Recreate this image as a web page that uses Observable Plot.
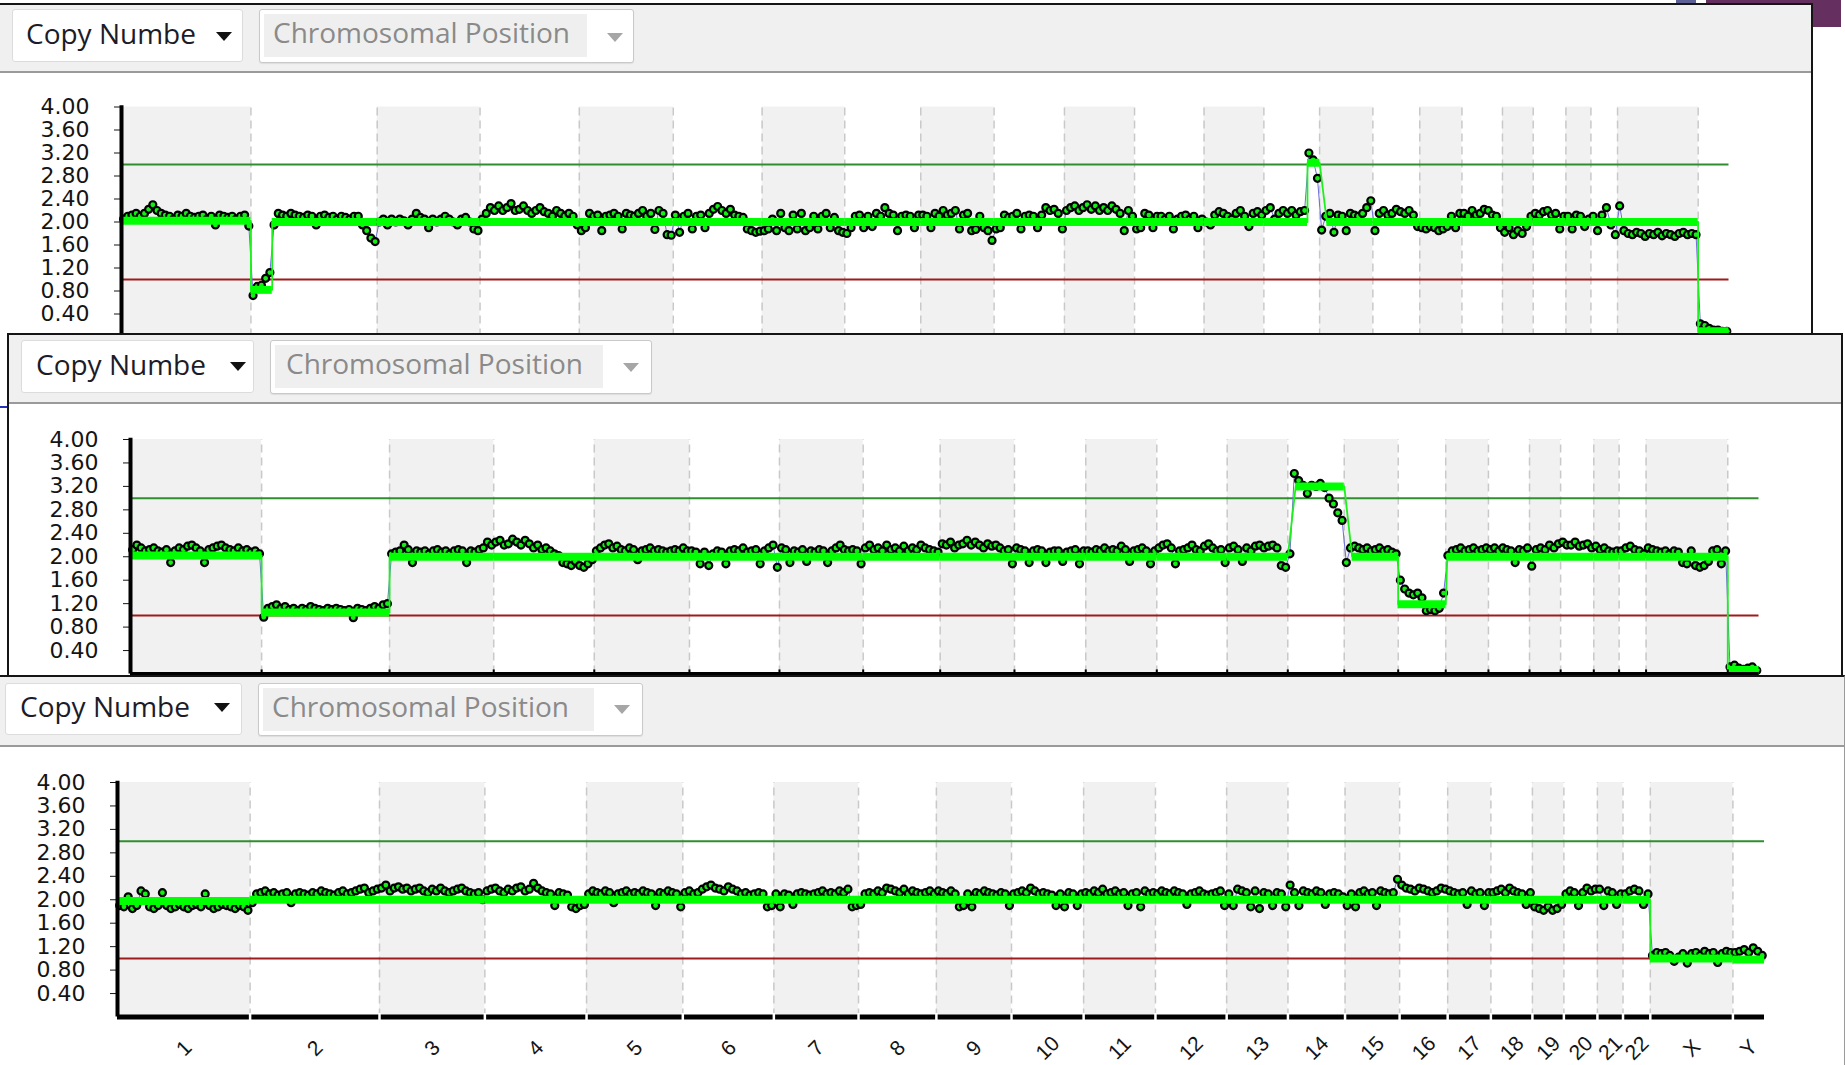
<!DOCTYPE html>
<html>
<head>
<meta charset="utf-8">
<script src="https://cdn.jsdelivr.net/npm/d3@7"></script>
<script src="https://cdn.jsdelivr.net/npm/@observablehq/plot@0.6"></script>
<style>
  html, body { margin: 0; padding: 0; background: #fff; }
  body { position: relative; width: 1845px; height: 1065px; overflow: hidden; font-family: "Open Sans", "Noto Sans", sans-serif; }
  .panel { position: absolute; box-sizing: border-box; background: #fff; overflow: hidden; }
  .toolbar { position: absolute; left: 0; right: 0; top: 0; background: #f0f0f0; border-bottom: 2px solid #9a9a9a; }
  .dd { position: absolute; box-sizing: border-box; background: #fff; border: 1px solid #dcdcdc; border-radius: 3px; }
  .dd2 { position: absolute; box-sizing: border-box; background: #fff; border: 1px solid #c9c9c9; border-radius: 3px; box-shadow: 0 1px 1px rgba(0,0,0,0.08); }
  .lbl { position: absolute; font-size: 28px; line-height: 28px; white-space: nowrap; color: #1c1c28; }
  .field { position: absolute; left: 4px; top: 4px; height: 43px; background: #efefef; }
  .field span { position: absolute; top: 4px; font-size: 28px; line-height: 28px; white-space: nowrap; color: #8a8a8a; }
  .caret { position: absolute; width: 0; height: 0; border-left: 8px solid transparent; border-right: 8px solid transparent; }
  .caret.dark { border-top: 9px solid #111; }
  .caret.light { border-top: 9px solid #a6a6a6; }
  .chart { position: absolute; left: 0; }
  .chart svg { display: block; }
</style>
</head>
<body>

<div style="position:absolute;left:1706px;top:0;width:135px;height:27px;background:#65305f;"></div>
<div style="position:absolute;left:1676px;top:0;width:20px;height:3px;background:#5c6096;"></div>

<!-- sample 1 window -->
<div class="panel" style="left:0;top:3px;width:1813px;height:340px;border-top:2px solid #151515;border-right:2px solid #151515;z-index:1;">
  <div class="toolbar" style="height:66px;"></div>
  <div class="dd" style="left:12px;top:4px;width:231px;height:53px;">
    <span class="lbl" style="left:13px;top:9px;">Copy Numbe</span>
    <span class="caret dark" style="left:203px;top:22px;"></span>
  </div>
  <div class="dd2" style="left:259px;top:4px;width:375px;height:54px;">
    <div class="field" style="width:323px;"><span style="left:9px;">Chromosomal Position</span></div>
    <span class="caret light" style="left:347px;top:23px;"></span>
  </div>
  <div class="chart" id="chart1" style="top:69px;"></div>
</div>
<div style="position:absolute;left:0;top:406px;width:8px;height:2px;background:#2431b8;z-index:1;"></div>

<!-- sample 2 window -->
<div class="panel" style="left:7px;top:333px;width:1836px;height:342px;border-top:2px solid #151515;border-left:2px solid #151515;border-right:2px solid #151515;z-index:2;">
  <div class="toolbar" style="height:67px;"></div>
  <div class="dd" style="left:12px;top:5px;width:233px;height:53px;">
    <span class="lbl" style="left:14px;top:9px;">Copy Numbe</span>
    <span class="caret dark" style="left:208px;top:21px;"></span>
  </div>
  <div class="dd2" style="left:261px;top:5px;width:382px;height:54px;">
    <div class="field" style="width:328px;"><span style="left:11px;">Chromosomal Position</span></div>
    <span class="caret light" style="left:352px;top:22px;"></span>
  </div>
  <div class="chart" id="chart2" style="top:69px;"></div>
</div>

<!-- sample 3 window -->
<div class="panel" style="left:0;top:675px;width:1845px;height:390px;border-top:2px solid #151515;border-right:1px solid #9a9a9a;z-index:3;">
  <div class="toolbar" style="height:68px;"></div>
  <div class="dd" style="left:5px;top:6px;width:237px;height:52px;">
    <span class="lbl" style="left:14px;top:8px;">Copy Numbe</span>
    <span class="caret dark" style="left:208px;top:19px;"></span>
  </div>
  <div class="dd2" style="left:258px;top:6px;width:385px;height:53px;">
    <div class="field" style="width:331px;"><span style="left:9px;">Chromosomal Position</span></div>
    <span class="caret light" style="left:355px;top:21px;"></span>
  </div>
  <div class="chart" id="chart3" style="top:70px;"></div>
</div>

<script>
// Chromosomes and their lengths (Mb); the x axis is the concatenated genome.
const chromosomes = ["1","2","3","4","5","6","7","8","9","10","11","12","13","14","15","16","17","18","19","20","21","22","X","Y"];
const chromLengthMb = [249.25,243.2,198.02,191.15,180.92,171.12,159.14,146.36,141.21,135.53,135.01,133.85,115.17,107.35,102.53,90.35,81.2,78.08,59.13,63.03,48.13,51.3,155.27,59.37];

// Copy-number ticks and the gain / loss reference levels.
const yTicks = [0.4, 0.8, 1.2, 1.6, 2.0, 2.4, 2.8, 3.2, 3.6, 4.0];
const gainLevel = 3;
const lossLevel = 1;

// Probe copy-number values per chromosome (listed in chromosome order).
const probesA = [
  [2.05,2.1,2.12,2.15,2.1,2.15,2.22,2.3,2.2,2.15,2.12,2.1,2.05,2.12,2.1,2.15,2.1,2.08,2.1,2.12,2.05,2.1,1.95,2.12,2.1,2.08,2.1,2.05,2.1,2.12,1.93],
  [0.72,0.88,0.9,1.02,1.12,1.95,2.15,2.12,2.1,2.15,2.12,2.1,2.08,2.12,2.1,1.95,2.1,2.12,2.08,2.1,2.05,2.1,2.08,2.05,2.1,2.1,1.95,1.85,1.72,1.66],
  [2.0,2.05,1.95,2.05,2.0,2.05,2.02,1.95,2.05,2.15,2.08,2.05,1.9,2.05,2.0,2.05,2.1,2.05,2.0,1.95,2.05,2.08,2.0,1.88,1.85],
  [2.05,2.15,2.25,2.2,2.28,2.2,2.25,2.32,2.2,2.22,2.28,2.2,2.15,2.2,2.25,2.18,2.15,2.1,2.2,2.15,2.1,2.15,2.1,1.95],
  [1.85,1.9,2.15,2.1,2.12,1.85,2.1,2.12,2.15,2.1,1.88,2.15,2.12,2.1,2.15,2.2,2.1,2.15,1.87,2.2,2.15,1.78,1.77],
  [2.12,1.82,2.1,2.15,1.88,2.1,2.12,1.9,2.15,2.22,2.27,2.2,2.15,2.22,2.12,2.1,2.08,1.88,1.85,1.82,1.84],
  [1.85,1.88,2.05,1.85,2.15,1.9,1.85,2.12,1.88,2.15,1.85,1.9,2.1,1.88,2.1,2.15,1.9,2.08,1.85,1.82],
  [1.8,1.9,2.1,2.12,1.9,2.1,1.92,2.15,2.1,2.25,2.15,2.12,1.85,2.1,2.12,2.1,1.9,2.12],
  [2.12,2.1,1.9,2.15,2.1,2.2,2.12,2.15,2.2,1.88,2.12,2.15,1.85,1.87,2.1,1.9,1.85,1.68],
  [1.88,1.9,2.12,2.08,2.1,2.15,1.88,2.1,2.12,2.1,1.9,2.12,2.25,2.2,2.22,2.15,1.88],
  [2.2,2.25,2.28,2.2,2.25,2.3,2.22,2.28,2.2,2.25,2.2,2.28,2.22,2.15,1.85,2.2,2.1],
  [1.88,1.9,2.15,2.12,1.9,2.1,2.1,2.05,2.1,1.88,2.05,2.1,2.12,2.05,2.1,1.9,2.05],
  [2.0,1.95,2.12,2.18,2.15,2.1,2.05,2.15,2.2,2.1,1.92,2.15,2.18,2.12],
  [2.2,2.25,2.05,2.15,2.2,2.15,2.2,2.12,2.18,2.2,3.2,3.08,2.76],
  [1.86,2.1,2.15,1.82,2.12,2.1,1.85,2.15,2.12,2.1,2.15,2.25,2.37],
  [1.85,2.15,2.2,2.12,2.15,2.22,2.18,2.15,2.2,2.12,1.92],
  [1.9,1.88,1.92,1.9,1.85,1.88,1.92,2.1,1.9,2.15],
  [2.15,2.1,2.2,2.12,2.15,2.22,2.2,2.12,2.1,1.9],
  [1.82,1.9,1.78,1.85,1.8,1.92,2.1],
  [2.15,2.12,2.18,2.2,2.12,2.15,1.88,2.1],
  [2.1,1.88,2.12,2.1,1.92,2.05],
  [2.1,1.85,2.12,2.25,1.95,1.78],
  [2.28,1.85,1.8,1.78,1.82,1.8,1.75,1.8,1.78,1.82,1.76,1.8,1.78,1.75,1.8,1.82,1.78,1.8,1.78],
  [0.23,0.2,0.15,0.12,0.12,0.1,0.1]
];

const probesB = [
  [2.12,2.2,2.15,2.1,2.12,2.15,2.1,2.08,2.12,1.9,2.1,2.15,2.12,2.18,2.2,2.15,2.1,1.9,2.12,2.15,2.18,2.2,2.15,2.12,2.1,2.15,2.1,2.12,2.08,2.1,2.05],
  [0.97,1.12,1.15,1.18,1.12,1.15,1.1,1.12,1.08,1.12,1.1,1.15,1.12,1.1,1.08,1.12,1.1,1.12,1.1,1.08,1.1,0.96,1.12,1.1,1.08,1.12,1.15,1.12,1.18,1.2],
  [2.05,2.08,2.1,2.2,2.12,1.9,2.1,2.08,2.1,2.05,2.1,2.12,2.08,2.1,2.05,2.1,2.12,2.1,1.9,2.1,2.08,2.12,2.15,2.25,2.2],
  [2.25,2.28,2.2,2.22,2.3,2.25,2.2,2.28,2.22,2.15,2.2,2.12,2.15,2.1,2.05,2.02,1.9,1.88,1.85,1.92,1.85,1.82,1.88,1.95],
  [2.1,2.15,2.2,2.22,2.15,2.18,2.12,2.1,2.15,2.12,1.95,2.1,2.12,2.15,2.1,2.12,2.1,2.08,2.1,2.12,2.1,2.15,2.1],
  [2.1,2.08,1.88,2.08,1.85,2.05,2.1,2.08,1.88,2.1,2.12,2.1,2.15,2.08,2.1,2.12,1.88,2.1,2.15,2.2,1.82],
  [2.15,2.12,1.9,2.1,2.08,2.12,1.92,2.1,2.08,2.12,2.1,1.9,2.1,2.15,2.2,2.12,2.1,2.12,2.1,1.88],
  [2.15,2.2,2.12,2.15,2.1,2.2,2.12,2.15,2.1,2.18,2.1,2.15,2.12,2.2,2.15,2.12,2.1,2.08],
  [2.22,2.2,2.25,2.15,2.2,2.22,2.28,2.2,2.25,2.2,2.15,2.22,2.18,2.2,2.15,2.1,2.12,1.88],
  [2.15,2.12,2.1,1.9,2.1,2.12,2.1,1.9,2.08,2.1,2.1,1.92,2.08,2.1,2.12,1.88,2.1],
  [2.1,2.08,2.12,2.1,2.15,2.1,2.12,2.1,2.18,2.12,1.92,2.1,2.12,2.15,2.1,1.88,2.1],
  [2.15,2.2,2.22,2.15,1.88,2.1,2.12,2.15,2.2,2.12,2.1,2.18,2.22,2.15,2.1,2.12,1.9],
  [2.15,2.18,2.12,1.92,2.15,2.1,2.18,2.2,2.15,2.18,2.2,2.15,1.85,1.82],
  [2.05,3.42,3.3,3.22,3.08,3.22,3.2,3.25,3.18,3.0,2.9,2.75,2.62],
  [1.9,2.15,2.18,2.15,2.12,2.15,2.1,2.12,2.15,2.1,2.12,2.08,2.05],
  [1.6,1.45,1.38,1.35,1.38,1.3,1.08,1.1,1.08,1.12,1.38],
  [2.02,2.1,2.12,2.15,2.1,2.12,2.15,2.1,2.12,2.15],
  [2.12,2.15,2.1,2.15,2.12,2.1,1.9,2.12,2.1,2.15],
  [1.84,2.12,2.15,2.12,2.2,2.15,2.22],
  [2.25,2.2,2.2,2.25,2.18,2.2,2.22,2.15],
  [2.18,2.12,2.15,2.1,2.08,2.1],
  [2.1,2.15,2.18,2.12,2.1,2.05],
  [2.15,2.12,2.1,2.08,2.1,2.05,2.1,2.08,1.9,1.88,2.1,1.85,1.82,1.85,1.92,2.1,2.12,1.88,2.1],
  [0.12,0.15,0.1,0.08,0.1,0.12,0.06]
];

const probesC = [
  [1.9,1.88,2.05,1.85,1.9,2.15,2.1,1.88,1.85,1.9,2.12,1.9,1.85,1.88,1.92,1.88,1.85,1.9,1.92,1.88,2.1,1.9,1.85,1.88,1.92,1.9,1.88,1.85,1.9,1.88,1.82],
  [1.95,2.1,2.12,2.15,2.1,2.12,2.08,2.1,2.12,1.95,2.1,2.12,2.1,2.08,2.12,2.1,2.15,2.12,2.1,2.08,2.12,2.15,2.1,2.12,2.15,2.18,2.2,2.12,2.15,2.18],
  [2.2,2.25,2.15,2.2,2.22,2.18,2.2,2.15,2.18,2.2,2.15,2.12,2.18,2.15,2.2,2.15,2.12,2.15,2.18,2.2,2.15,2.12,2.1,2.12,2.0],
  [2.15,2.18,2.2,2.15,2.12,2.18,2.15,2.2,2.22,2.15,2.18,2.28,2.2,2.15,2.12,2.1,1.9,2.12,2.1,2.08,1.88,1.85,1.9,1.92],
  [2.1,2.15,2.12,2.1,2.15,2.12,1.95,2.1,2.12,2.15,2.1,2.12,2.1,2.15,2.12,2.1,1.9,2.12,2.1,2.15,2.12,2.1,1.88],
  [2.12,2.15,2.1,2.12,2.18,2.22,2.25,2.2,2.18,2.15,2.22,2.18,2.15,2.1,2.12,2.08,2.1,2.12,2.1,1.88,1.9],
  [2.1,1.88,2.1,2.08,1.92,2.1,2.12,2.1,2.08,2.1,2.12,2.15,2.1,2.12,2.1,2.15,2.12,2.18,1.88,1.9],
  [1.92,2.1,2.12,2.1,2.15,2.12,2.2,2.18,2.15,2.12,2.18,2.1,2.15,2.12,2.1,2.12,2.15,2.1],
  [2.15,2.12,2.1,2.15,2.1,1.88,1.9,2.1,1.88,2.12,2.1,2.15,2.12,2.1,2.08,2.12,2.1,1.9],
  [2.1,2.12,2.15,2.12,2.2,2.15,2.1,2.12,2.1,2.08,1.9,2.1,1.88,2.12,2.1,1.9,2.1],
  [2.12,2.1,2.15,2.12,2.18,2.1,2.12,2.15,2.1,2.12,1.9,2.1,2.12,1.88,2.15,2.1,2.12],
  [2.1,2.15,2.12,2.1,2.15,2.12,2.1,1.92,2.1,2.12,2.15,2.1,2.08,2.1,2.12,2.15,1.9],
  [2.1,1.9,2.18,2.15,2.12,1.88,2.15,1.85,2.12,2.1,1.9,2.12,2.1,1.88],
  [2.25,2.12,1.9,2.15,2.12,2.1,2.15,2.12,1.92,2.1,2.12,2.1,2.05],
  [1.9,2.1,1.88,2.12,2.15,2.1,2.12,1.9,2.15,2.12,2.1,2.12,2.35],
  [2.25,2.2,2.18,2.15,2.2,2.18,2.15,2.12,2.15,2.2,2.18],
  [2.15,2.12,2.1,2.12,1.92,2.15,2.1,2.12,1.9,2.12],
  [2.12,2.15,2.18,2.12,2.2,2.15,2.12,2.1,1.92,2.12],
  [1.88,1.85,1.82,1.88,1.82,1.85,1.92],
  [2.1,2.15,2.12,1.9,2.12,2.2,2.15,2.18],
  [2.18,1.9,2.15,2.12,1.92,2.1],
  [2.1,2.15,2.18,2.15,1.92,2.1],
  [1.05,1.1,1.08,1.1,1.05,0.95,1.02,1.08,0.92,1.08,1.1,1.05,1.12,1.08,1.1,0.93,1.08,1.12,1.1],
  [1.1,1.12,1.15,1.1,1.18,1.12,1.05]
];

// Segmented copy-number calls: [chromosome, start Mb, end Mb, level].
const segmentsA = [
  ["1",0,249.25,2.02],["2",0,41,0.82],["2",41,243.2,2.0],["3",0,198.02,2.0],["4",0,191.15,2.0],
  ["5",0,180.92,2.0],["6",0,171.12,2.0],["7",0,159.14,2.0],["8",0,146.36,2.0],["9",0,141.21,2.0],
  ["10",0,135.53,2.0],["11",0,135.01,2.0],["12",0,133.85,2.0],["13",0,115.17,2.0],
  ["14",0,84,2.0],["14",84,107.35,3.03],["15",14,102.53,2.0],["16",0,90.35,2.0],["17",0,81.2,2.0],
  ["18",0,78.08,2.0],["19",0,59.13,2.0],["20",0,63.03,2.0],["21",0,48.13,2.0],["22",0,51.3,2.0],
  ["X",0,155.27,2.0],["Y",0,59.37,0.1]
];
const segmentsB = [
  ["1",0,249.25,2.02],["2",0,243.2,1.05],["3",0,198.02,2.0],["4",0,191.15,2.0],
  ["5",0,180.92,2.0],["6",0,171.12,2.0],["7",0,159.14,2.0],["8",0,146.36,2.0],["9",0,141.21,2.0],
  ["10",0,135.53,2.0],["11",0,135.01,2.0],["12",0,133.85,2.0],["13",0,115.17,2.0],
  ["14",15,107.35,3.2],["15",15,102.53,2.0],["16",0,90.35,1.19],["17",3,81.2,2.0],
  ["18",0,78.08,2.0],["19",0,59.13,2.0],["20",0,63.03,2.0],["21",0,48.13,2.0],["22",0,51.3,2.0],
  ["X",0,155.27,2.0],["Y",0,59.37,0.07]
];
const segmentsC = [
  ["1",0,249.25,1.98],["2",0,243.2,2.0],["3",0,198.02,2.0],["4",0,191.15,2.0],
  ["5",0,180.92,2.0],["6",0,171.12,2.0],["7",0,159.14,2.0],["8",0,146.36,2.0],["9",0,141.21,2.0],
  ["10",0,135.53,2.0],["11",0,135.01,2.0],["12",0,133.85,2.0],["13",0,115.17,2.0],
  ["14",0,107.35,2.0],["15",0,102.53,2.0],["16",0,90.35,2.0],["17",0,81.2,2.0],
  ["18",0,78.08,2.0],["19",0,59.13,2.0],["20",0,63.03,2.0],["21",0,48.13,2.0],["22",0,51.3,2.0],
  ["X",0,155.27,1.0],["Y",0,59.37,0.98]
];

// Genome layout: chromosome offsets along the concatenated axis.
const offsets = Array.from(d3.cumsum([0, ...chromLengthMb]));
const GENOME = offsets[offsets.length - 1];
const chromTable = chromosomes.map((name, i) => ({
  name, start: offsets[i], end: offsets[i + 1], mid: (offsets[i] + offsets[i + 1]) / 2, shaded: i % 2 === 0
}));
const boundaries = chromTable.slice(0, -1);

// Probes spread across each chromosome in listing order.
function probeRows(values) {
  return values.flatMap((vals, c) =>
    vals.map((cn, i) => ({pos: offsets[c] + (i + 0.5) / vals.length * chromLengthMb[c], cn})));
}
function segmentRows(segs) {
  return segs.map(([chr, a, b, level]) => {
    const c = chromosomes.indexOf(chr);
    return {g1: offsets[c] + a, g2: offsets[c] + b, level};
  });
}
function segmentPath(rows) {
  return rows.flatMap(s => [{g: s.g1, cn: s.level}, {g: s.g2, cn: s.level}]);
}

function copyNumberPlot({width, height, marginLeft, marginRight, marginTop, marginBottom, probes, segments, extra}) {
  const probeData = probeRows(probes);
  const segData = segmentRows(segments);
  return Plot.plot({
    width, height, marginLeft, marginRight, marginTop, marginBottom,
    style: {fontFamily: '"DejaVu Sans", Verdana, sans-serif', fontSize: "22px", color: "#141414", background: "transparent", overflow: "visible"},
    x: {domain: [0, GENOME], axis: null},
    y: {domain: [0, 4], ticks: yTicks, tickFormat: d3.format(".2f"), tickSize: 7, tickPadding: 25, label: null},
    marks: [
      Plot.rect(chromTable.filter(d => d.shaded), {x1: "start", x2: "end", y1: 0, y2: 4, fill: "#f1f1f1"}),
      Plot.ruleX(boundaries, {x: "end", y1: 0, y2: 4, stroke: "#c9c9c9", strokeWidth: 1.5, strokeDasharray: "8,5"}),
      Plot.ruleY([gainLevel], {x1: 0, x2: GENOME, stroke: "#2f8f2f", strokeWidth: 2}),
      Plot.ruleY([lossLevel], {x1: 0, x2: GENOME, stroke: "#9e1b1b", strokeWidth: 2}),
      Plot.line(probeData, {x: "pos", y: "cn", stroke: "#6d6fd8", strokeWidth: 1}),
      Plot.dot(probeData, {x: "pos", y: "cn", r: 3.5, fill: "#14ee14", stroke: "#000", strokeWidth: 2.2}),
      Plot.line(segmentPath(segData), {x: "g", y: "cn", stroke: "#1ef01e", strokeWidth: 1.8}),
      Plot.ruleY(segData, {y: "level", x1: "g1", x2: "g2", stroke: "#00ff00", strokeWidth: 8}),
      Plot.ruleX([0], {y1: 0, y2: 4.02, stroke: "#000", strokeWidth: 4}),
      ...(extra || [])
    ]
  });
}

// Sample 1 (bottom edge hidden behind the next window)
document.getElementById("chart1").append(copyNumberPlot({
  width: 1811, height: 273, marginLeft: 121, marginRight: 82.5, marginTop: 32.5, marginBottom: 10.5,
  probes: probesA, segments: segmentsA
}));

// Sample 2: thin baseline with boundary ticks
document.getElementById("chart2").append(copyNumberPlot({
  width: 1832, height: 272, marginLeft: 121, marginRight: 82.5, marginTop: 35, marginBottom: 2.5,
  probes: probesB, segments: segmentsB,
  extra: [
    Plot.ruleY([0], {x1: 0, x2: GENOME, stroke: "#000", strokeWidth: 4}),
    Plot.ruleX(boundaries, {x: "end", y1: 0, y2: 0.07, stroke: "#000", strokeWidth: 2})
  ]
}));

// Sample 3: heavy segmented baseline and rotated chromosome names
document.getElementById("chart3").append(copyNumberPlot({
  width: 1844, height: 318, marginLeft: 117, marginRight: 80, marginTop: 35, marginBottom: 48.5,
  probes: probesC, segments: segmentsC,
  extra: [
    Plot.ruleY([0], {x1: 0, x2: GENOME, stroke: "#000", strokeWidth: 5}),
    Plot.ruleX(boundaries, {x: "end", y1: -0.06, y2: 0.06, stroke: "#fff", strokeWidth: 2.5}),
    Plot.text(chromTable, {x: "mid", text: "name", frameAnchor: "bottom", dx: 5, dy: 36, rotate: -45, fontSize: 21, fontFamily: '"Liberation Sans", Arial, sans-serif', fill: "#141414"})
  ]
}));
</script>
</body>
</html>
